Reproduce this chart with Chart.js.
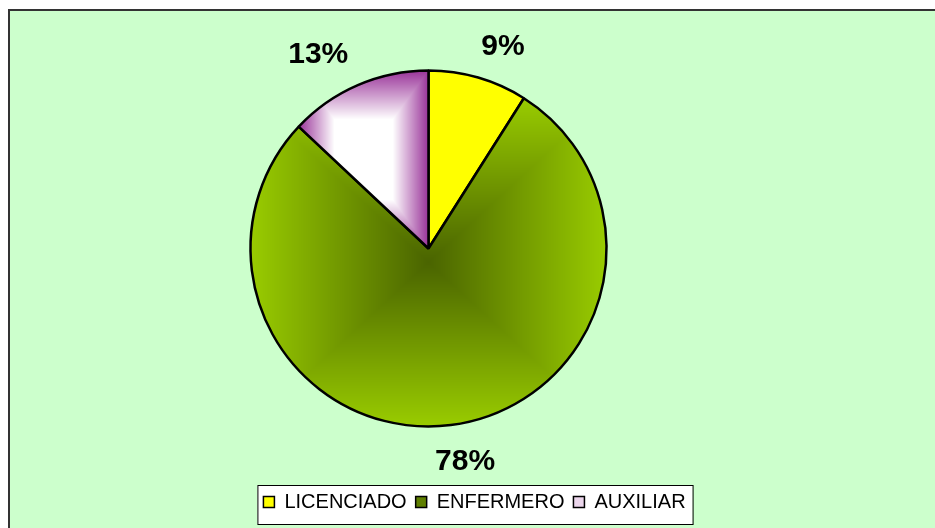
<!DOCTYPE html>
<html>
<head>
<meta charset="utf-8">
<script src="https://cdn.jsdelivr.net/npm/chart.js@4.4.1/dist/chart.umd.min.js"></script>
<style>
  html, body { margin: 0; padding: 0; background: #fff; }
  #wrap { width: 935px; height: 528px; }
</style>
</head>
<body>
<div id="wrap"><canvas id="pie-chart" width="935" height="528"></canvas></div>
<script>
const categories = ['LICENCIADO', 'ENFERMERO', 'AUXILIAR'];
const percentages = [9, 78, 13];

const pieRadius = 178;
const legendSwatch = ['#ffff00', '#5f7f00', '#ecd6ec'];

// Excel style "from center" fill: colour depends on how far a pixel is
// towards the edge of the slice's bounding box
const patternCache = {};
function pathGradient(chart, box, inner, outer, plateau) {
  const key = [box.x0, box.y0, box.x1, box.y1, inner, outer].map(v => Math.round(v)).join('|');
  if (patternCache[key]) return patternCache[key];
  const off = document.createElement('canvas');
  off.width = chart.width;
  off.height = chart.height;
  const g = off.getContext('2d');
  const x0 = Math.floor(box.x0), y0 = Math.floor(box.y0);
  const w = Math.ceil(box.x1) - x0 + 1, h = Math.ceil(box.y1) - y0 + 1;
  const img = g.createImageData(w, h);
  const mx = (box.x0 + box.x1) / 2, my = (box.y0 + box.y1) / 2;
  const hw = (box.x1 - box.x0) / 2 || 1, hh = (box.y1 - box.y0) / 2 || 1;
  for (let j = 0; j < h; j++) {
    for (let i = 0; i < w; i++) {
      const u = Math.abs((x0 + i + 0.5 - mx) / hw);
      const v = Math.abs((y0 + j + 0.5 - my) / hh);
      let t = (Math.max(u, v) - plateau) / (1 - plateau);
      t = Math.min(Math.max(t, 0), 1);
      const p = (j * w + i) * 4;
      img.data[p] = inner[0] + (outer[0] - inner[0]) * t;
      img.data[p + 1] = inner[1] + (outer[1] - inner[1]) * t;
      img.data[p + 2] = inner[2] + (outer[2] - inner[2]) * t;
      img.data[p + 3] = 255;
    }
  }
  g.putImageData(img, x0, y0);
  const pat = chart.ctx.createPattern(off, 'no-repeat');
  patternCache[key] = pat;
  return pat;
}

function sliceBox(cx, cy, r, a0, a1) {
  const pts = [[cx, cy], [cx + r * Math.cos(a0), cy + r * Math.sin(a0)], [cx + r * Math.cos(a1), cy + r * Math.sin(a1)]];
  for (let k = -4; k <= 8; k++) {
    const a = k * Math.PI / 2;
    if (a > a0 && a < a1) pts.push([cx + r * Math.cos(a), cy + r * Math.sin(a)]);
  }
  return {
    x0: Math.min(...pts.map(p => p[0])), x1: Math.max(...pts.map(p => p[0])),
    y0: Math.min(...pts.map(p => p[1])), y1: Math.max(...pts.map(p => p[1]))
  };
}

function sliceFill(ctx) {
  const i = ctx.dataIndex;
  if (i === 0) return '#ffff00';
  const chart = ctx.chart;
  const area = chart.chartArea;
  if (!area) return legendSwatch[i];
  const vals = ctx.dataset.data;
  const total = vals.reduce((a, b) => a + b, 0);
  const before = vals.slice(0, i).reduce((a, b) => a + b, 0);
  const a0 = -Math.PI / 2 + 2 * Math.PI * before / total;
  const a1 = a0 + 2 * Math.PI * vals[i] / total;
  const cx = (area.left + area.right) / 2, cy = (area.top + area.bottom) / 2;
  const box = sliceBox(cx, cy, pieRadius, a0, a1);
  if (i === 1) return pathGradient(chart, box, [74, 100, 0], [153, 204, 0], 0);
  return pathGradient(chart, box, [255, 255, 255], [153, 51, 153], 0.45);
}

const frame = {
  id: 'frame',
  afterLayout(chart) {
    // Excel puts the legend off to the right of the pie centre
    chart.legend.left += 46;
    chart.legend.right += 46;
  },
  beforeDraw(chart) {
    const c = chart.ctx;
    c.save();
    c.fillStyle = '#ffffff';
    c.fillRect(0, 0, chart.width, chart.height);
    c.fillStyle = '#ccffcc';
    c.fillRect(9, 10, chart.width, chart.height);
    c.strokeStyle = '#333333';
    c.lineWidth = 2;
    c.strokeRect(9, 10, chart.width + 20, chart.height + 20);
    const lg = chart.legend;
    const pad = lg.options.labels.padding;
    const lw = lg.lineWidths[0];
    const start = (lg.left + pad + lg.right - lw) / 2;
    c.fillStyle = '#ffffff';
    c.fillRect(start - 6, lg.top + 2, lw - pad + 13, 39);
    c.strokeStyle = '#000000';
    c.lineWidth = 1;
    c.strokeRect(start - 6 + 0.5, lg.top + 2.5, lw - pad + 13, 39);
    c.restore();
  },
  afterDatasetsDraw(chart) {
    const c = chart.ctx;
    const meta = chart.getDatasetMeta(0);
    c.save();
    c.font = 'bold 30px "Liberation Sans", Arial, sans-serif';
    c.fillStyle = '#000000';
    c.textAlign = 'center';
    c.textBaseline = 'alphabetic';
    meta.data.forEach((arc, i) => {
      const p = arc.getProps(['x', 'y', 'startAngle', 'endAngle', 'outerRadius'], true);
      const mid = (p.startAngle + p.endAngle) / 2;
      const ux = Math.cos(mid), uy = Math.sin(mid);
      const d = p.outerRadius + 24;
      const text = chart.data.datasets[0].data[i] + '%';
      const w = c.measureText(text).width, h = 21.5;
      const clamp = v => Math.max(-1, Math.min(1, v));
      const tx = p.x + d * ux + clamp(3 * ux) * w / 2;
      const ty = p.y + d * uy + clamp(3 * uy) * h / 2;
      c.fillText(text, tx, ty + h / 2);
    });
    c.restore();
  }
};

new Chart(document.getElementById('pie-chart'), {
  type: 'pie',
  data: {
    labels: categories,
    datasets: [{
      data: percentages,
      backgroundColor: sliceFill,
      borderColor: '#000000',
      borderWidth: 2.5,
      radius: pieRadius
    }]
  },
  options: {
    responsive: false,
    animation: false,
    devicePixelRatio: 1,
    layout: { padding: { left: 10, right: 88, top: 14, bottom: 6 } },
    plugins: {
      legend: {
        position: 'bottom',
        labels: {
          boxWidth: 11,
          boxHeight: 11,
          padding: 9,
          color: '#000000',
          font: { family: '"Liberation Sans", Arial, sans-serif', size: 20 },
          generateLabels: (chart) => chart.data.labels.map((text, i) => ({
            text,
            fillStyle: legendSwatch[i],
            strokeStyle: '#000000',
            lineWidth: 1.5,
            fontColor: '#000000',
            hidden: false,
            index: i
          }))
        }
      },
      tooltip: { enabled: false }
    }
  },
  plugins: [frame]
});
</script>
</body>
</html>
